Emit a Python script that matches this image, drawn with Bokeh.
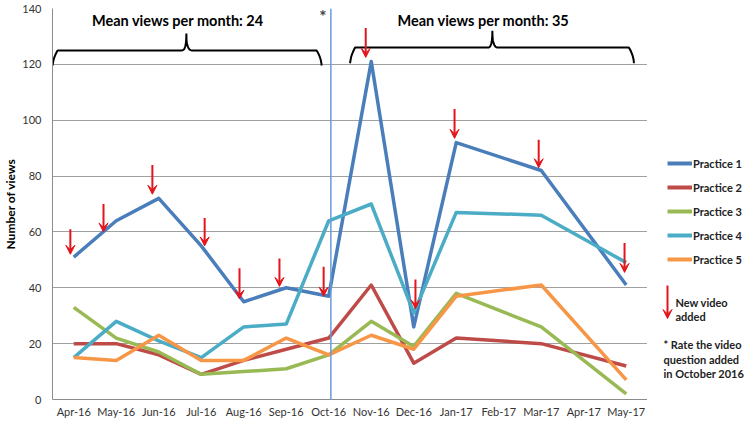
from bokeh.plotting import figure
from bokeh.layouts import row
from bokeh.models import (Range1d, FixedTicker, Span, Label, Arrow, VeeHead,
                          Legend, LegendItem)
from bokeh.embed import file_html
from bokeh.resources import INLINE
import numpy as np

# ---------------- data ----------------
months = ["Apr-16", "May-16", "Jun-16", "Jul-16", "Aug-16", "Sep-16", "Oct-16",
          "Nov-16", "Dec-16", "Jan-17", "Feb-17", "Mar-17", "Apr-17", "May-17"]
data_months = ["Apr-16", "May-16", "Jun-16", "Jul-16", "Aug-16", "Sep-16", "Oct-16",
               "Nov-16", "Dec-16", "Jan-17", "Mar-17", "May-17"]
practice_1 = [51, 64, 72, 55, 35, 40, 37, 121, 26, 92, 82, 41]
practice_2 = [20, 20, 16, 9, 14, 18, 22, 41, 13, 22, 20, 12]
practice_3 = [33, 22, 17, 9, 10, 11, 16, 28, 19, 38, 26, 2]
practice_4 = [15, 28, 21, 15, 26, 27, 64, 70, 31, 67, 66, 49]
practice_5 = [15, 14, 23, 14, 14, 22, 16, 23, 18, 37, 41, 7]
series_names = ["Practice 1", "Practice 2", "Practice 3", "Practice 4", "Practice 5"]
series_colors = ["#4a7ebb", "#be4b48", "#98b954", "#4bacc6", "#f79646"]

# "new video added" arrows: month, horizontal offset (in months), top and tip values
arrow_months = ["Apr-16", "May-16", "Jun-16", "Jul-16", "Aug-16", "Sep-16", "Oct-16",
                "Nov-16", "Dec-16", "Jan-17", "Mar-17", "May-17"]
arrow_offsets = [-0.08, -0.30, -0.15, 0.08, -0.10, -0.16, -0.12, -0.13, 0.04, -0.04, -0.06, -0.04]
arrow_tops = [61, 70, 84, 65, 47, 50.5, 47.5, 133, 43, 104, 93, 56]
arrow_tips = [52, 60, 73.5, 55, 36, 40.5, 37, 122.5, 32.5, 93.5, 83, 45.5]

mean_before = 24
mean_after = 35
change_month = "Oct-16"
note_lines = ["* Rate the video", "question added", "in October 2016"]

idx = {m: i for i, m in enumerate(months)}
xs = [idx[m] for m in data_months]

FONT = "Lato"
RED = "#e3151b"
TOP, FRAME_H, BOTTOM = 8, 391, 18

p = figure(frame_width=595, frame_height=FRAME_H, output_backend="svg",
           toolbar_location=None, x_range=Range1d(-0.5, 13.5), y_range=Range1d(0, 140),
           min_border_left=44, min_border_right=0, min_border_top=TOP, min_border_bottom=BOTTOM)
p.outline_line_color = None

# axes
p.xaxis.ticker = FixedTicker(ticks=list(range(len(months))))
p.xaxis.major_label_overrides = {i: m for i, m in enumerate(months)}
p.yaxis.ticker = FixedTicker(ticks=list(range(0, 141, 20)))
for ax in (p.xaxis[0], p.yaxis[0]):
    ax.major_tick_line_color = None
    ax.minor_tick_line_color = None
    ax.major_tick_out = 0
    ax.major_tick_in = 0
    ax.minor_tick_out = 0
    ax.minor_tick_in = 0
    ax.axis_line_color = "#8c8c8c"
    ax.major_label_text_font = FONT
    ax.major_label_text_font_size = "11px"
    ax.major_label_text_color = "#333333"
p.xaxis.major_label_standoff = 5
p.yaxis.major_label_standoff = 11
p.yaxis.axis_label = "Number of views"
p.yaxis.axis_label_text_font = FONT
p.yaxis.axis_label_text_font_style = "bold"
p.yaxis.axis_label_text_font_size = "12px"
p.yaxis.axis_label_text_color = "black"
p.yaxis.axis_label_standoff = 1
p.xgrid.grid_line_color = None
p.ygrid.grid_line_color = "#a0a0a0"
p.ygrid.grid_line_width = 1

# vertical marker line
p.add_layout(Span(location=idx[change_month] + 0.05, dimension="height",
                  line_color="#6a9bd8", line_width=1.5))
p.add_layout(Label(x=idx[change_month], y=137, text="*", x_offset=-6,
                   text_font=FONT, text_font_size="17px", text_font_style="bold",
                   text_baseline="middle", text_align="center"))

# series
series = [practice_1, practice_2, practice_3, practice_4, practice_5]
for name, vals, col in zip(series_names, series, series_colors):
    p.line(xs, vals, line_color=col, line_width=3.5, line_join="round")

# arrows
for m, dx, top, tip in zip(arrow_months, arrow_offsets, arrow_tops, arrow_tips):
    x = idx[m] + dx
    p.add_layout(Arrow(x_start=x, y_start=top, x_end=x, y_end=tip,
                       line_color=RED, line_width=2,
                       end=VeeHead(size=9, fill_color=RED, line_color=RED, line_width=1)))

# braces
def brace(x0, x1, xm, y, y_end, y_tip, r=0.12):
    t = np.linspace(0, 1, 8)
    pts_x, pts_y = [], []
    pts_x += list(x0 + r * np.sin(t * np.pi / 2)); pts_y += list(y_end + (y - y_end) * np.sin(t * np.pi / 2) ** 0.6)
    pts_x += list(xm - r + r * np.sin(t * np.pi / 2)); pts_y += list(y + (y_tip - y) * (1 - np.cos(t * np.pi / 2)) ** 1.5)
    pts_x += list(xm + r - r * np.cos(t * np.pi / 2)); pts_y += list(y_tip + (y - y_tip) * np.sin(t * np.pi / 2) ** 0.7)
    pts_x += list(x1 - r + r * np.sin(t * np.pi / 2)); pts_y += list(y - (y - y_end) * (1 - np.cos(t * np.pi / 2)) ** 0.6)
    return pts_x, pts_y

bx, by = brace(-0.5, 5.83, 2.65, 125, 119.6, 131)
p.line(bx, by, line_color="black", line_width=2)
bx, by = brace(6.5, 13.18, 9.85, 126, 120.4, 132)
p.line(bx, by, line_color="black", line_width=2)

p.add_layout(Label(x=2.45, y=135.6, text=f"Mean views per month: {mean_before}",
                   text_font=FONT, text_font_size="14.5px", text_font_style="bold",
                   text_align="center", text_baseline="middle", text_color="black"))
p.add_layout(Label(x=9.64, y=135.8, text=f"Mean views per month: {mean_after}",
                   text_font=FONT, text_font_size="14.5px", text_font_style="bold",
                   text_align="center", text_baseline="middle", text_color="black"))

# ---------------- side panel: legend and notes ----------------
side_w = 97
s = figure(frame_width=side_w, frame_height=FRAME_H, output_backend="svg", toolbar_location=None,
           x_range=Range1d(0, side_w), y_range=Range1d(0, FRAME_H),
           x_axis_type=None, y_axis_type=None,
           min_border_left=0, min_border_right=0, min_border_top=TOP, min_border_bottom=BOTTOM)
s.outline_line_color = None
s.xgrid.grid_line_color = None
s.ygrid.grid_line_color = None

items = []
for name, col in zip(series_names, series_colors):
    # placeholder renderer (outside the visible range) that only supplies the legend swatch
    r = s.line(x=[-20, -10], y=[-20, -20], line_color=col, line_width=4)
    items.append(LegendItem(label=name, renderers=[r]))
legend = Legend(items=items, location=(20, 130), glyph_width=25, glyph_height=20,
                label_height=20, spacing=4, padding=0, margin=0, label_standoff=1,
                border_line_color=None, background_fill_alpha=0,
                label_text_font=FONT, label_text_font_size="11px",
                label_text_font_style="bold", label_text_color="#222222")
s.add_layout(legend)

s.add_layout(Arrow(x_start=20, y_start=114, x_end=20, y_end=81,
                   line_color=RED, line_width=2,
                   end=VeeHead(size=9, fill_color=RED, line_color=RED, line_width=1)))
for txt, x, y in [("New video", 28, 97), ("added", 28, 83),
                  (note_lines[0], 16, 55), (note_lines[1], 16, 40), (note_lines[2], 16, 26)]:
    s.add_layout(Label(x=x, y=y, text=txt,
                       text_font=FONT, text_font_size="11px", text_font_style="bold",
                       text_baseline="middle", text_align="left", text_color="#222222"))

layout = row(p, s, spacing=0)
open("out.html", "w").write(file_html(layout, INLINE))
